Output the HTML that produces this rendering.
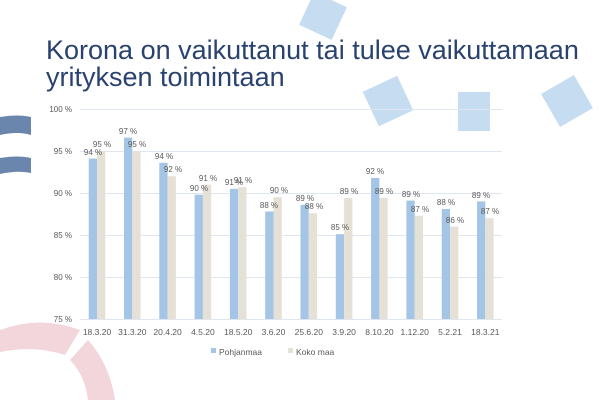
<!DOCTYPE html>
<html><head><meta charset="utf-8"><style>
body{margin:0;background:#fff;}
svg{display:block;font-family:"Liberation Sans",sans-serif;}
</style></head><body>
<svg width="600" height="400" viewBox="0 0 600 400">
<g fill="#c6dcf1">
<rect x="305" y="-2" width="36" height="36" transform="rotate(25 323 16)"/>
<rect x="369" y="82" width="38" height="38" transform="rotate(-25 388 101)"/>
<rect x="458" y="92" width="32" height="39"/>
<rect x="548" y="82" width="38" height="38" transform="rotate(-30 567 101)"/>
</g>
<g fill="#6a86ad">
<path d="M0 117 Q18 114 31 117 L31 135 Q18 131 0 135Z"/>
<path d="M0 158 Q18 155 31 158 L31 173 Q18 170 0 174Z"/>
</g>
<g fill="#f3d5dc">
<path d="M0 330 Q40 315 80 330 L65 355 Q35 345 0 352Z"/>
<path d="M88 340 Q110 365 115 400 L88 400 Q85 375 70 360Z"/>
</g>
<text x="46" y="59" font-size="27" fill="#2a4270">Korona on vaikuttanut tai tulee vaikuttamaan</text>
<text x="46" y="86" font-size="27" fill="#2a4270">yrityksen toimintaan</text>
<g stroke="#dfe6ef" stroke-width="1">
<line x1="80" x2="502" y1="109.5" y2="109.5"/>
<line x1="80" x2="502" y1="151.5" y2="151.5"/>
<line x1="80" x2="502" y1="193.5" y2="193.5"/>
<line x1="80" x2="502" y1="235.5" y2="235.5"/>
<line x1="80" x2="502" y1="277.5" y2="277.5"/>
<line x1="80" x2="502" y1="319.5" y2="319.5"/>
</g>
<g font-size="8" fill="#595959" text-anchor="end">
<text x="72" y="112">100 %</text><text x="72" y="154">95 %</text><text x="72" y="196">90 %</text>
<text x="72" y="238">85 %</text><text x="72" y="280">80 %</text><text x="72" y="322">75 %</text>
</g>
<g fill="#a4c5e6">
<rect x="88.7" y="158.6" width="8.3" height="160.4"/>
<rect x="124" y="137.6" width="8.3" height="181.4"/>
<rect x="159.3" y="162.8" width="8.3" height="156.2"/>
<rect x="194.6" y="194.7" width="8.3" height="124.3"/>
<rect x="229.9" y="188.8" width="8.3" height="130.2"/>
<rect x="265.2" y="211.5" width="8.3" height="107.5"/>
<rect x="300.5" y="204.8" width="8.3" height="114.2"/>
<rect x="335.8" y="234.2" width="8.3" height="84.8"/>
<rect x="371.1" y="177.9" width="8.3" height="141.1"/>
<rect x="406.4" y="200.6" width="8.3" height="118.4"/>
<rect x="441.7" y="209" width="8.3" height="110"/>
<rect x="477" y="201.4" width="8.3" height="117.6"/>
</g>
<g fill="#e6e1d6">
<rect x="97" y="151" width="8.3" height="168"/>
<rect x="132.3" y="151" width="8.3" height="168"/>
<rect x="167.6" y="176.2" width="8.3" height="142.8"/>
<rect x="202.9" y="184.6" width="8.3" height="134.4"/>
<rect x="238.2" y="187.1" width="8.3" height="131.9"/>
<rect x="273.5" y="197.2" width="8.3" height="121.8"/>
<rect x="308.8" y="213.2" width="8.3" height="105.8"/>
<rect x="344.1" y="198" width="8.3" height="121"/>
<rect x="379.4" y="198" width="8.3" height="121"/>
<rect x="414.7" y="215.7" width="8.3" height="103.3"/>
<rect x="450" y="226.6" width="8.3" height="92.4"/>
<rect x="485.3" y="218.2" width="8.3" height="100.8"/>
</g>
<g font-size="8" fill="#595959" text-anchor="middle">
<text x="93" y="155">94 %</text><text x="102" y="147">95 %</text>
<text x="128" y="134">97 %</text><text x="137" y="147">95 %</text>
<text x="164" y="159">94 %</text><text x="173" y="172">92 %</text>
<text x="199" y="191">90 %</text><text x="208" y="181">91 %</text>
<text x="234" y="185">91 %</text><text x="243" y="183">91 %</text>
<text x="269" y="208">88 %</text><text x="279" y="193">90 %</text>
<text x="305" y="201">89 %</text><text x="314" y="209">88 %</text>
<text x="340" y="230">85 %</text><text x="349" y="194">89 %</text>
<text x="375" y="174">92 %</text><text x="384" y="194">89 %</text>
<text x="411" y="197">89 %</text><text x="420" y="212">87 %</text>
<text x="446" y="205">88 %</text><text x="455" y="223">86 %</text>
<text x="481" y="198">89 %</text><text x="490" y="214">87 %</text>
</g>
<g font-size="8.5" fill="#595959" text-anchor="middle">
<text x="97" y="335">18.3.20</text><text x="132.3" y="335">31.3.20</text><text x="167.6" y="335">20.4.20</text>
<text x="202.9" y="335">4.5.20</text><text x="238.2" y="335">18.5.20</text><text x="273.5" y="335">3.6.20</text>
<text x="308.8" y="335">25.6.20</text><text x="344.1" y="335">3.9.20</text><text x="379.4" y="335">8.10.20</text>
<text x="414.7" y="335">1.12.20</text><text x="450" y="335">5.2.21</text><text x="485.3" y="335">18.3.21</text>
</g>
<rect x="211" y="348" width="5" height="5" fill="#a4c5e6"/>
<text x="219" y="355" font-size="8.5" fill="#595959">Pohjanmaa</text>
<rect x="288" y="348" width="5" height="5" fill="#e6e1d6"/>
<text x="296" y="355" font-size="8.5" fill="#595959">Koko maa</text>
</svg>
</body></html>
